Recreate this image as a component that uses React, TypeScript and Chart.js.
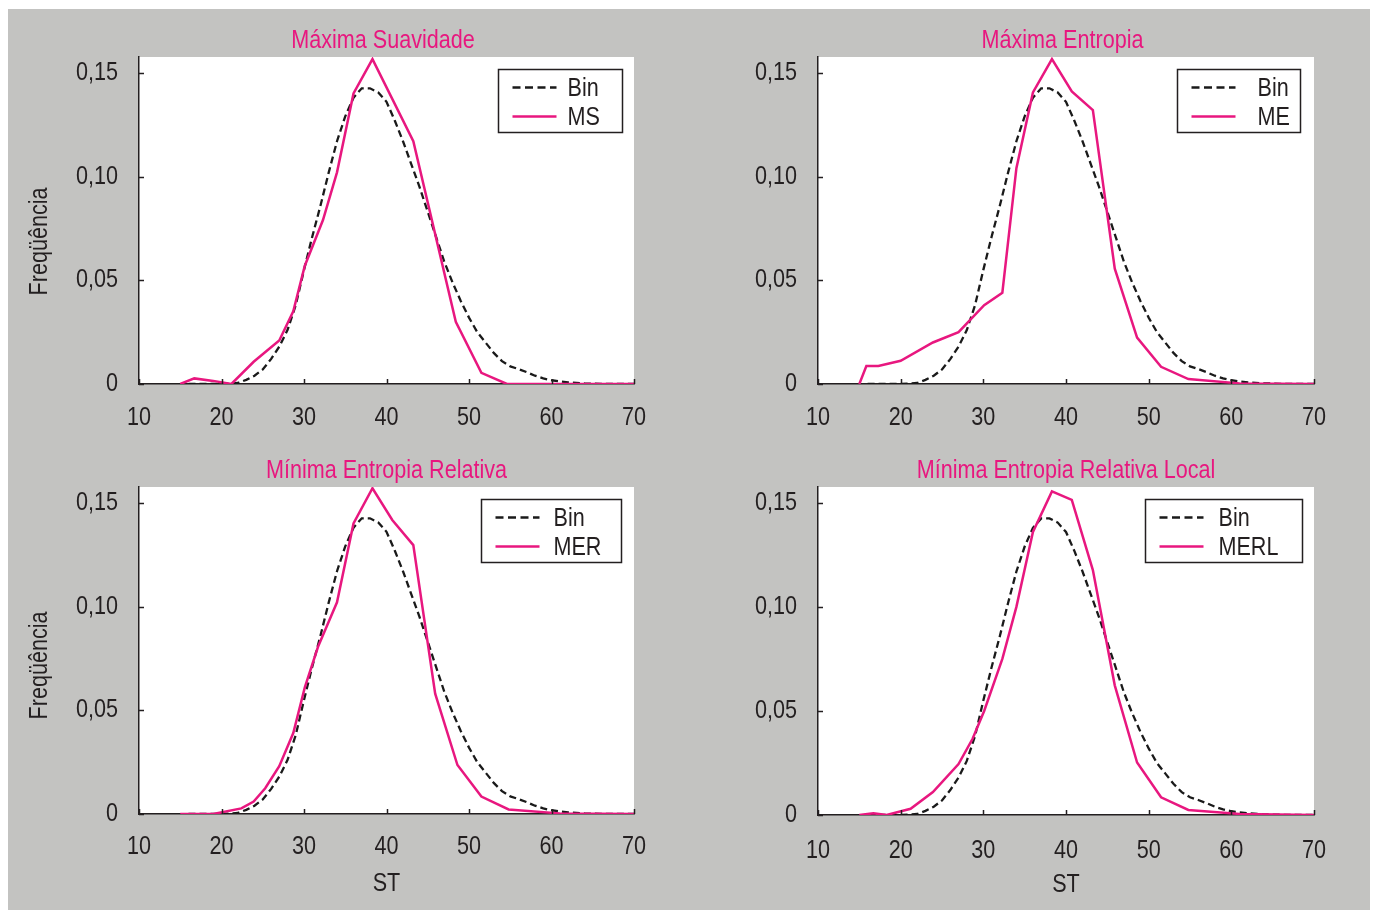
import React, { useEffect, useRef } from "react";
import { Chart, registerables } from "chart.js";

Chart.register(...registerables);

// ---------- DATA ----------
const xTicks = [10, 20, 30, 40, 50, 60, 70];
const xTickLabels = ["10", "20", "30", "40", "50", "60", "70"];
const yTicks = [0, 0.05, 0.1, 0.15];
const yTickLabels = ["0", "0,05", "0,10", "0,15"];

const binX = [16, 18, 20, 22, 23, 24, 25, 26, 27, 28, 29, 30, 31, 32, 33, 34, 35, 36, 37, 38, 39, 40, 41, 42, 43, 44, 45, 46, 47, 48, 49, 50, 51, 52, 53, 54, 55, 56, 57, 58, 59, 60, 62, 64, 66, 68, 70];
const binY = [0, 0, 0, 0.0005, 0.002, 0.004, 0.007, 0.012, 0.018, 0.026, 0.038, 0.055, 0.071, 0.086, 0.102, 0.117, 0.129, 0.138, 0.1425, 0.1425, 0.1405, 0.136, 0.127, 0.117, 0.106, 0.095, 0.083, 0.071, 0.059, 0.049, 0.040, 0.032, 0.025, 0.020, 0.015, 0.011, 0.0085, 0.0072, 0.0057, 0.004, 0.0027, 0.0018, 0.0008, 0.0003, 0.0001, 0, 0];

const msX = [15, 16.7, 19, 21.2, 23.9, 27, 28.7, 30.1, 32.3, 34, 36, 38.3, 43.25, 48.4, 51.5, 54.6, 70];
const msY = [0, 0.0027, 0.0015, 0, 0.0107, 0.021, 0.035, 0.057, 0.079, 0.102, 0.14, 0.1566, 0.117, 0.03, 0.0054, 0, 0];

const meX = [15, 15.85, 17.3, 20, 23.9, 27, 30.1, 32.3, 34, 36, 38.3, 40.7, 43.25, 45.9, 48.6, 51.5, 54.8, 61, 70];
const meY = [0, 0.0087, 0.0087, 0.0112, 0.02, 0.025, 0.038, 0.044, 0.104, 0.1405, 0.1566, 0.141, 0.132, 0.0556, 0.0224, 0.0083, 0.0024, 0.0003, 0];

const merX = [15, 19, 22.4, 23.9, 25.3, 27, 28.7, 30.1, 31.7, 34, 36, 38.3, 40.7, 43.25, 45.9, 48.6, 51.5, 54.8, 61, 70];
const merY = [0, 0, 0.0027, 0.006, 0.0124, 0.023, 0.039, 0.061, 0.0806, 0.102, 0.14, 0.157, 0.1417, 0.1296, 0.058, 0.0236, 0.0084, 0.0022, 0.0003, 0];

const merlX = [15, 16.7, 18.3, 21.2, 23.9, 27, 28.7, 30.1, 32.3, 34, 36, 38.3, 40.7, 43.25, 45.9, 48.6, 51.5, 54.8, 61, 70];
const merlY = [0, 0.0008, 0, 0.003, 0.011, 0.0245, 0.0366, 0.05, 0.075, 0.1, 0.136, 0.1555, 0.1514, 0.1177, 0.0623, 0.0252, 0.0085, 0.0024, 0.0005, 0];

const titles = ["Máxima Suavidade", "Máxima Entropia", "Mínima Entropia Relativa", "Mínima Entropia Relativa Local"];
const seriesNames = ["MS", "ME", "MER", "MERL"];
const binName = "Bin";
const yAxisTitle = "Freqüência";
const xAxisTitle = "ST";

// ---------- STYLE ----------
const PINK = "#e8177f";
const DARK = "#231f20";
const GRAY = "#c3c3c1";
const FONT = '"Liberation Sans", Arial, sans-serif';
const FS = 26;
const SX = 0.83; // horizontal condensing of text (narrow face look)

const toPts = (xs: number[], ys: number[]) => xs.map((x, i) => ({ x, y: ys[i] }));

const panels = [
  { left: 8, top: 9, w: 680, h: 440, plot: { l: 139, t: 57, r: 634, b: 384 }, xs: msX, ys: msY, yTitle: true, yTitleOff: 21, xTitle: false, legW: 124, legText: 69, legRight: 12, xLabOff: 34, titleDx: -3.5 },
  { left: 688, top: 9, w: 682, h: 440, plot: { l: 818, t: 57, r: 1314, b: 384 }, xs: meX, ys: meY, yTitle: false, yTitleOff: 0, xTitle: false, legW: 123, legText: 80, legRight: 14, xLabOff: 34, titleDx: -3.5 },
  { left: 8, top: 449, w: 680, h: 461, plot: { l: 139, t: 487, r: 634, b: 814 }, xs: merX, ys: merY, yTitle: true, yTitleOff: 15, xTitle: true, legW: 140, legText: 72, legRight: 13, xLabOff: 33, titleDx: 0 },
  { left: 688, top: 449, w: 682, h: 461, plot: { l: 818, t: 487, r: 1314, b: 815 }, xs: merlX, ys: merlY, yTitle: false, yTitleOff: 0, xTitle: true, legW: 157, legText: 73, legRight: 12, xLabOff: 36, titleDx: 0 },
];

function narrowText(ctx: CanvasRenderingContext2D, text: string, x: number, y: number, align: CanvasTextAlign, rotate = 0) {
  ctx.save();
  ctx.translate(x, y);
  if (rotate) ctx.rotate(rotate);
  ctx.scale(SX, 1);
  ctx.textAlign = align;
  ctx.fillText(text, 0, 0);
  ctx.restore();
}

const decorPlugin = {
  id: "decor",
  beforeDraw(chart: any) {
    const { ctx, chartArea: ca } = chart;
    ctx.save();
    ctx.fillStyle = "#ffffff";
    ctx.fillRect(ca.left, ca.top, ca.right - ca.left, ca.bottom - ca.top);
    ctx.restore();
  },
  afterDraw(chart: any, _args: any, opts: any) {
    const { ctx, chartArea: ca, scales } = chart;
    ctx.save();
    // inward tick marks
    ctx.strokeStyle = DARK;
    ctx.lineWidth = 1.5;
    ctx.beginPath();
    scales.y.ticks.forEach((t: any) => {
      const py = Math.round(scales.y.getPixelForValue(t.value)) + 0.5;
      ctx.moveTo(ca.left, py);
      ctx.lineTo(ca.left + 5, py);
    });
    scales.x.ticks.forEach((t: any) => {
      const px = Math.round(scales.x.getPixelForValue(t.value)) + 0.5;
      ctx.moveTo(px, ca.bottom);
      ctx.lineTo(px, ca.bottom - 5);
    });
    ctx.stroke();

    ctx.font = `${FS}px ${FONT}`;
    ctx.textBaseline = "middle";
    ctx.fillStyle = DARK;
    // tick labels from the scales' ticks
    scales.y.ticks.forEach((t: any, i: number) => {
      narrowText(ctx, yTickLabels[i], ca.left - 21, scales.y.getPixelForValue(t.value), "right");
    });
    scales.x.ticks.forEach((t: any, i: number) => {
      narrowText(ctx, xTickLabels[i], scales.x.getPixelForValue(t.value), ca.bottom + opts.xLabOff, "center");
    });
    // panel title
    ctx.fillStyle = PINK;
    narrowText(ctx, opts.title, (ca.left + ca.right) / 2 + opts.titleDx, ca.top - 16, "center");
    // axis titles
    ctx.fillStyle = DARK;
    if (opts.xTitle) narrowText(ctx, opts.xTitle, (ca.left + ca.right) / 2, ca.bottom + 70, "center");
    if (opts.yTitle) narrowText(ctx, opts.yTitle, 32, (ca.top + ca.bottom) / 2 + opts.yTitleOff, "center", -Math.PI / 2);
    // legend box
    const bw = opts.legW;
    const bh = 63;
    const bx = Math.round(ca.right - opts.legRight - bw) + 0.5;
    const by = Math.round(ca.top + 12) + 0.5;
    ctx.fillStyle = "#ffffff";
    ctx.fillRect(bx, by, bw, bh);
    ctx.strokeStyle = DARK;
    ctx.lineWidth = 1.5;
    ctx.strokeRect(bx, by, bw, bh);
    const rows = [18, 47];
    chart.data.datasets.forEach((ds: any, i: number) => {
      const y = by + rows[i];
      ctx.save();
      ctx.strokeStyle = ds.borderColor;
      ctx.lineWidth = ds.borderWidth;
      ctx.setLineDash(ds.borderDash ? [8, 4.5] : []);
      ctx.beginPath();
      ctx.moveTo(bx + 14, y);
      ctx.lineTo(bx + 58, y);
      ctx.stroke();
      ctx.restore();
      ctx.fillStyle = DARK;
      narrowText(ctx, ds.label, bx + opts.legText, y + 1, "left");
    });
    ctx.restore();
  },
};

function Panel({ idx }: { idx: number }) {
  const ref = useRef<HTMLCanvasElement>(null);
  const p = panels[idx];
  useEffect(() => {
    const padTop = p.plot.t - p.top;
    const padRight = p.left + p.w - p.plot.r;
    const yW = p.plot.l - p.left;
    const xH = p.top + p.h - p.plot.b;
    const chart = new Chart(ref.current as HTMLCanvasElement, {
      type: "line",
      data: {
        datasets: [
          {
            label: binName,
            data: toPts(binX, binY),
            borderColor: "#1a1a1a",
            borderWidth: 2.3,
            borderDash: [7, 4],
            pointRadius: 0,
            tension: 0,
            fill: false,
            order: 1,
          },
          {
            label: seriesNames[idx],
            data: toPts(p.xs, p.ys),
            borderColor: PINK,
            borderWidth: 2.5,
            pointRadius: 0,
            tension: 0,
            fill: false,
            order: 0,
          },
        ],
      },
      options: {
        animation: false,
        responsive: false,
        events: [],
        layout: { padding: { top: padTop, right: padRight, left: 0, bottom: 0 } },
        plugins: {
          legend: { display: false },
          tooltip: { enabled: false },
          title: { display: false },
          decor: {
            title: titles[idx],
            titleDx: p.titleDx,
            yTitle: p.yTitle ? yAxisTitle : null,
            yTitleOff: p.yTitleOff,
            xTitle: p.xTitle ? xAxisTitle : null,
            legW: p.legW,
            legText: p.legText,
            legRight: p.legRight,
            xLabOff: p.xLabOff,
          },
        } as any,
        scales: {
          x: {
            type: "linear",
            min: 10,
            max: 70,
            grid: { display: false, drawTicks: false },
            border: { display: true, color: DARK, width: 1.5 },
            afterFit: (s: any) => {
              s.height = xH;
            },
            afterBuildTicks: (s: any) => {
              s.ticks = xTicks.map((v) => ({ value: v }));
            },
            ticks: { display: false },
          },
          y: {
            type: "linear",
            min: 0,
            max: 0.1576,
            grid: { display: false, drawTicks: false },
            border: { display: true, color: DARK, width: 1.5 },
            afterFit: (s: any) => {
              s.width = yW;
            },
            afterBuildTicks: (s: any) => {
              s.ticks = yTicks.map((v) => ({ value: v }));
            },
            ticks: { display: false },
          },
        },
      },
      plugins: [decorPlugin],
    } as any);
    return () => chart.destroy();
  }, []);
  return (
    <canvas
      ref={ref}
      width={p.w}
      height={p.h}
      style={{ position: "absolute", left: p.left, top: p.top, width: p.w, height: p.h }}
    />
  );
}

export default function App() {
  return (
    <div style={{ position: "absolute", left: 0, top: 0, width: 1374, height: 910, background: "#ffffff", overflow: "hidden" }}>
      <div style={{ position: "absolute", left: 8, top: 9, width: 1362, height: 901, background: GRAY }} />
      {[0, 1, 2, 3].map((i) => (
        <Panel key={i} idx={i} />
      ))}
    </div>
  );
}
